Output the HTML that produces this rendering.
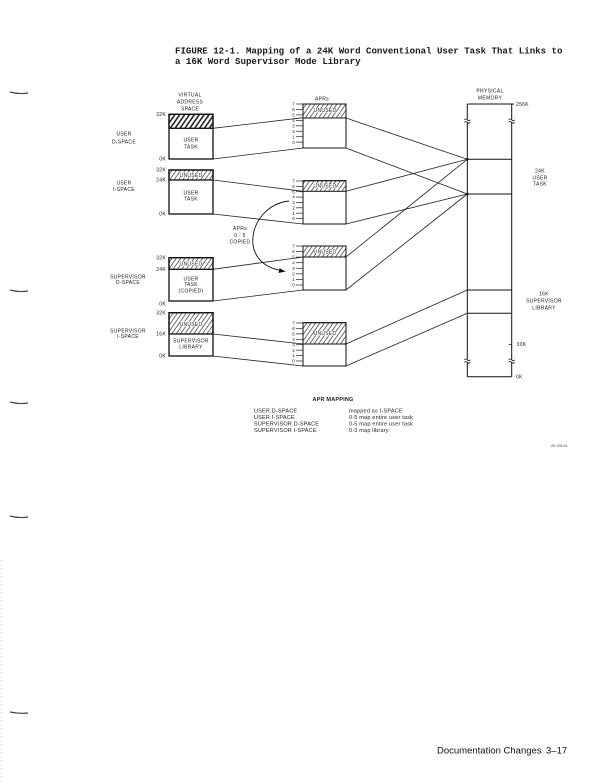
<!DOCTYPE html>
<html><head><meta charset="utf-8"><style>
html,body{margin:0;padding:0;background:#fff;}
svg{display:block;}
.s{font-family:"Liberation Sans",sans-serif;font-size:5px;fill:#222;letter-spacing:0.3px;}
.n{font-family:"Liberation Sans",sans-serif;font-size:4.6px;fill:#222;}
.t{font-family:"Liberation Sans",sans-serif;font-size:5.5px;fill:#222;letter-spacing:0.2px;}
</style></head><body>
<svg width="604" height="783" viewBox="0 0 604 783" xmlns="http://www.w3.org/2000/svg">
<defs>
<pattern id="hd" width="4" height="4" patternUnits="userSpaceOnUse" patternTransform="rotate(35)"><line x1="1" y1="0" x2="1" y2="4" stroke="#111" stroke-width="1.5"/></pattern>
<pattern id="hl" width="3.6" height="3.6" patternUnits="userSpaceOnUse" patternTransform="rotate(35)"><line x1="1" y1="0" x2="1" y2="3.6" stroke="#333" stroke-width="0.7"/></pattern>
</defs>
<rect width="604" height="783" fill="#fff"/>

<!-- title -->
<text x="175" y="53.5" font-family="Liberation Mono, monospace" font-size="9.1" font-weight="bold" fill="#1a1a1a">FIGURE 12-1. Mapping of a 24K Word Conventional User Task That Links to</text>
<text x="175" y="64" font-family="Liberation Mono, monospace" font-size="9.1" font-weight="bold" fill="#1a1a1a">a 16K Word Supervisor Mode Library</text>

<!-- margin marks -->
<g stroke="#444" stroke-width="1.2" fill="none">
<path d="M10,92 q9,2.5 18,1"/>
<path d="M10,290 q9,2.5 18,1"/>
<path d="M10,402 q9,2.5 18,1"/>
<path d="M10,516 q9,2.5 18,1"/>
<path d="M10,712 q9,2 18,1"/>
</g>
<line x1="1" y1="560" x2="1" y2="783" stroke="#ccc" stroke-width="1" stroke-dasharray="1,3"/>

<!-- left labels -->
<g class="s" text-anchor="middle">
<text x="190" y="96.7">VIRTUAL</text>
<text x="190" y="103.7">ADDRESS</text>
<text x="190" y="110.7">SPACE</text>
<text x="124" y="135.7">USER</text>
<text x="124" y="143.7">D-SPACE</text>
<text x="124" y="184.7">USER</text>
<text x="124" y="191">I-SPACE</text>
<text x="128" y="278.4">SUPERVISOR</text>
<text x="128" y="284">D-SPACE</text>
<text x="128" y="332.4">SUPERVISOR</text>
<text x="128" y="338">I-SPACE</text>
<text x="322" y="100.5">APRs</text>
<text x="240" y="230">APRs</text>
<text x="240" y="236.8">0 - 5</text>
<text x="240" y="243.4">COPIED</text>
</g>
<g class="s" text-anchor="end">
<text x="166" y="116">32K</text>
<text x="166" y="160.7">0K</text>
<text x="166" y="171.7">32K</text>
<text x="166" y="181.7">24K</text>
<text x="166" y="215.7">0K</text>
<text x="166" y="259.7">32K</text>
<text x="166" y="271">24K</text>
<text x="166" y="305.4">0K</text>
<text x="166" y="314.7">32K</text>
<text x="166" y="335.7">16K</text>
<text x="166" y="357.7">0K</text>
</g>

<!-- left boxes -->
<g stroke="#111" stroke-width="1.3" fill="none">
<rect x="169" y="114.3" width="44" height="14" fill="url(#hd)"/>
<rect x="169" y="114.3" width="44" height="44.7"/>
<rect x="169" y="170" width="44" height="10" fill="url(#hl)"/>
<rect x="169" y="170" width="44" height="44"/>
<rect x="169" y="257.7" width="44" height="11.6" fill="url(#hl)"/>
<rect x="169" y="257.7" width="44" height="43.3"/>
<rect x="169" y="312.7" width="44" height="21.3" fill="url(#hl)"/>
<rect x="169" y="312.7" width="44" height="43.3"/>
</g>
<g fill="#fff">
<rect x="180" y="172.5" width="22" height="5"/>
<rect x="180" y="261" width="22" height="5"/>
<rect x="180" y="321.5" width="22" height="5"/>
</g>
<g class="s" text-anchor="middle">
<text x="191" y="141.7">USER</text>
<text x="191" y="148.7">TASK</text>
<text x="191" y="176.8">UNUSED</text>
<text x="191" y="194.7">USER</text>
<text x="191" y="200.7">TASK</text>
<text x="191" y="265.3">UNUSED</text>
<text x="191" y="280.4">USER</text>
<text x="191" y="286">TASK</text>
<text x="191" y="292.4">(COPIED)</text>
<text x="191" y="325.8">UNUSED</text>
<text x="191" y="342.4">SUPERVISOR</text>
<text x="191" y="348.4">LIBRARY</text>
</g>

<!-- APR blocks -->
<g stroke="#111" stroke-width="1" fill="none">
<rect x="303" y="104" width="43" height="14" fill="url(#hl)"/>
<rect x="303" y="104" width="43" height="44"/>
<rect x="303" y="180.7" width="43" height="10.6" fill="url(#hl)"/>
<rect x="303" y="180.7" width="43" height="43.3"/>
<rect x="303" y="246" width="43" height="11" fill="url(#hl)"/>
<rect x="303" y="246" width="43" height="44"/>
<rect x="303" y="322.7" width="43" height="21.3" fill="url(#hl)"/>
<rect x="303" y="322.7" width="43" height="43.3"/>
</g>
<g fill="#fff">
<rect x="314" y="108" width="22" height="4.5"/>
<rect x="314" y="183.7" width="22" height="4.5"/>
<rect x="314" y="249.3" width="22" height="4.5"/>
<rect x="314" y="331" width="22" height="4.5"/>
</g>
<g class="s" text-anchor="middle">
<text x="325" y="111.8">UNUSED</text>
<text x="325" y="187.7">UNUSED</text>
<text x="325" y="253.3">UNUSED</text>
<text x="325" y="335">UNUSED</text>
</g>
<!-- APR ticks -->
<g stroke="#222" stroke-width="0.7">
<line x1="296" y1="104" x2="303" y2="104"/><line x1="296" y1="109.45" x2="303" y2="109.45"/><line x1="296" y1="114.9" x2="303" y2="114.9"/><line x1="296" y1="120.35" x2="303" y2="120.35"/><line x1="296" y1="125.8" x2="303" y2="125.8"/><line x1="296" y1="131.25" x2="303" y2="131.25"/><line x1="296" y1="136.7" x2="303" y2="136.7"/><line x1="296" y1="142.15" x2="303" y2="142.15"/>
<line x1="296" y1="181" x2="303" y2="181"/><line x1="296" y1="186.36" x2="303" y2="186.36"/><line x1="296" y1="191.72" x2="303" y2="191.72"/><line x1="296" y1="197.08" x2="303" y2="197.08"/><line x1="296" y1="202.44" x2="303" y2="202.44"/><line x1="296" y1="207.8" x2="303" y2="207.8"/><line x1="296" y1="213.16" x2="303" y2="213.16"/><line x1="296" y1="218.52" x2="303" y2="218.52"/>
<line x1="296" y1="246" x2="303" y2="246"/><line x1="296" y1="251.57" x2="303" y2="251.57"/><line x1="296" y1="257.14" x2="303" y2="257.14"/><line x1="296" y1="262.71" x2="303" y2="262.71"/><line x1="296" y1="268.28" x2="303" y2="268.28"/><line x1="296" y1="273.85" x2="303" y2="273.85"/><line x1="296" y1="279.42" x2="303" y2="279.42"/><line x1="296" y1="285" x2="303" y2="285"/>
<line x1="296" y1="323" x2="303" y2="323"/><line x1="296" y1="328.43" x2="303" y2="328.43"/><line x1="296" y1="333.86" x2="303" y2="333.86"/><line x1="296" y1="339.29" x2="303" y2="339.29"/><line x1="296" y1="344.72" x2="303" y2="344.72"/><line x1="296" y1="350.15" x2="303" y2="350.15"/><line x1="296" y1="355.58" x2="303" y2="355.58"/><line x1="296" y1="361" x2="303" y2="361"/>
</g>
<g class="n" text-anchor="middle">
<text x="293.5" y="105.6">7</text><text x="293.5" y="111">6</text><text x="293.5" y="116.5">5</text><text x="293.5" y="122">4</text><text x="293.5" y="127.4">3</text><text x="293.5" y="132.9">2</text><text x="293.5" y="138.3">1</text><text x="293.5" y="143.8">0</text>
<text x="293.5" y="182.6">7</text><text x="293.5" y="188">6</text><text x="293.5" y="193.3">5</text><text x="293.5" y="198.7">4</text><text x="293.5" y="204">3</text><text x="293.5" y="209.4">2</text><text x="293.5" y="214.8">1</text><text x="293.5" y="220.1">0</text>
<text x="293.5" y="247.6">7</text><text x="293.5" y="253.2">6</text><text x="293.5" y="258.7">5</text><text x="293.5" y="264.3">4</text><text x="293.5" y="269.9">3</text><text x="293.5" y="275.4">2</text><text x="293.5" y="281">1</text><text x="293.5" y="286.6">0</text>
<text x="293.5" y="324.6">7</text><text x="293.5" y="330">6</text><text x="293.5" y="335.5">5</text><text x="293.5" y="340.9">4</text><text x="293.5" y="346.3">3</text><text x="293.5" y="351.8">2</text><text x="293.5" y="357.2">1</text><text x="293.5" y="362.6">0</text>
</g>

<!-- connector lines -->
<g stroke="#222" stroke-width="0.8" fill="none">
<line x1="213" y1="128.3" x2="303" y2="117.7"/>
<line x1="213" y1="159" x2="303" y2="148"/>
<line x1="213" y1="180" x2="303" y2="191.3"/>
<line x1="213" y1="214" x2="303" y2="224"/>
<line x1="213" y1="269.3" x2="303" y2="257"/>
<line x1="213" y1="301" x2="303" y2="290"/>
<line x1="213" y1="334" x2="303" y2="344"/>
<line x1="213" y1="356" x2="303" y2="366"/>
<line x1="346" y1="118" x2="467.3" y2="159.3"/>
<line x1="346" y1="148" x2="467.3" y2="194"/>
<line x1="346" y1="191.3" x2="467.3" y2="159.3"/>
<line x1="346" y1="224" x2="467.3" y2="194"/>
<line x1="346" y1="257" x2="467.3" y2="159.3"/>
<line x1="346" y1="290" x2="467.3" y2="194"/>
<line x1="346" y1="344" x2="467.3" y2="290"/>
<line x1="346" y1="366" x2="467.3" y2="313.3"/>
</g>

<!-- copy arc -->
<path d="M289,201 C250,205 236,262 280,270.3" stroke="#111" stroke-width="0.9" fill="none"/>
<polygon points="285.5,271.5 278.5,273 279.6,268.2" fill="#111"/>

<!-- physical memory -->
<g stroke="#111" stroke-width="1" fill="none">
<line x1="467.3" y1="104" x2="514" y2="104"/>
<line x1="467.3" y1="104" x2="467.3" y2="376.7"/>
<line x1="511.7" y1="104" x2="511.7" y2="376.7"/>
<line x1="467.3" y1="376.7" x2="511.7" y2="376.7"/>
<line x1="467.3" y1="159.3" x2="511.7" y2="159.3"/>
<line x1="467.3" y1="194" x2="511.7" y2="194"/>
<line x1="467.3" y1="290" x2="511.7" y2="290"/>
<line x1="467.3" y1="313.3" x2="511.7" y2="313.3"/>
<line x1="508.5" y1="344.3" x2="511.7" y2="344.3" stroke-width="0.7"/>
</g>
<circle cx="467.3" cy="159.3" r="1.3" fill="#111"/>
<circle cx="467.3" cy="194" r="1.3" fill="#111"/>
<!-- break marks -->
<g fill="#fff"><rect x="465" y="119.3" width="5" height="3"/><rect x="509.4" y="119.3" width="5" height="3"/><rect x="465" y="359.3" width="5" height="3"/><rect x="509.4" y="359.3" width="5" height="3"/></g>
<g stroke="#111" stroke-width="0.8" fill="none">
<path d="M464.3,119.8 q1.5,-1.6 3,0 t3,0"/><path d="M464.3,122.3 q1.5,-1.6 3,0 t3,0"/>
<path d="M508.7,119.8 q1.5,-1.6 3,0 t3,0"/><path d="M508.7,122.3 q1.5,-1.6 3,0 t3,0"/>
<path d="M464.3,359.8 q1.5,-1.6 3,0 t3,0"/><path d="M464.3,362.3 q1.5,-1.6 3,0 t3,0"/>
<path d="M508.7,359.8 q1.5,-1.6 3,0 t3,0"/><path d="M508.7,362.3 q1.5,-1.6 3,0 t3,0"/>
</g>
<g class="s" text-anchor="middle">
<text x="490" y="92.7">PHYSICAL</text>
<text x="490" y="99.4">MEMORY</text>
<text x="540" y="172.4">24K</text>
<text x="540" y="179.4">USER</text>
<text x="540" y="185.7">TASK</text>
<text x="544" y="295.7">16K</text>
<text x="544" y="302.7">SUPERVISOR</text>
<text x="544" y="309.4">LIBRARY</text>
</g>
<g class="s">
<text x="516" y="105.8">256K</text>
<text x="516.5" y="346">30K</text>
<text x="516" y="378.5">0K</text>
</g>

<!-- APR mapping table -->
<text x="333" y="401" class="t" font-weight="bold" text-anchor="middle">APR MAPPING</text>
<g class="t">
<text x="254" y="412.6">USER D-SPACE</text>
<text x="254" y="419">USER I-SPACE</text>
<text x="254" y="425.4">SUPERVISOR D-SPACE</text>
<text x="254" y="431.8">SUPERVISOR I-SPACE</text>
<text x="349" y="412.6">mapped as I-SPACE</text>
<text x="349" y="419">0-5 map entire user task</text>
<text x="349" y="425.4">0-5 map entire user task</text>
<text x="349" y="431.8">0-3 map library</text>
</g>
<text x="551" y="447" font-family="Liberation Sans, sans-serif" font-size="3.5" fill="#444">ZK-439-81</text>

<!-- footer -->
<text x="437" y="753.5" font-family="Liberation Sans, sans-serif" font-size="9.5" fill="#111">Documentation Changes</text>
<text x="546" y="753.5" font-family="Liberation Sans, sans-serif" font-size="9.5" fill="#111">3–17</text>
</svg>
</body></html>
